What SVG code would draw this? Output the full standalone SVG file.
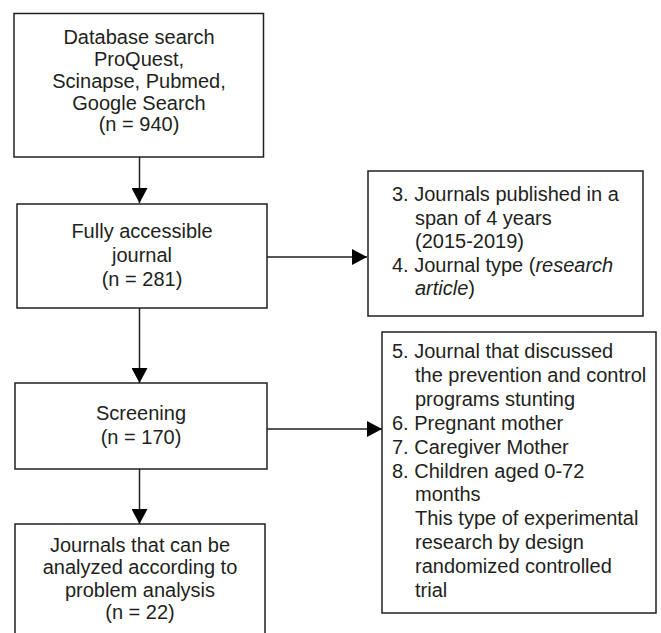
<svg xmlns="http://www.w3.org/2000/svg" width="661" height="633" viewBox="0 0 661 633">
<defs>
<style>
.box{fill:#fff;stroke:#231f20;stroke-width:1.5}
.t{font-family:"Liberation Sans",Arial,sans-serif;font-size:20px;fill:#231f20}
.c{text-anchor:middle}
.ln{stroke:#231f20;stroke-width:1.5;fill:none}
</style>
<marker id="ah" markerUnits="userSpaceOnUse" markerWidth="16" markerHeight="16" refX="15" refY="8" orient="auto">
<polygon points="0,0 15,8 0,16" fill="#000"/>
</marker>
</defs>
<rect width="661" height="633" fill="#fff"/>
<g id="connectors">
<line class="ln" x1="139.5" y1="157" x2="139.5" y2="203" marker-end="url(#ah)"/>
<line class="ln" x1="267" y1="257" x2="367" y2="257" marker-end="url(#ah)"/>
<line class="ln" x1="139.5" y1="308" x2="139.5" y2="383" marker-end="url(#ah)"/>
<line class="ln" x1="267" y1="429" x2="382" y2="429" marker-end="url(#ah)"/>
<line class="ln" x1="139.5" y1="469" x2="139.5" y2="524" marker-end="url(#ah)"/>
</g>
<g id="n1">
<rect class="box" x="14" y="13.5" width="249.5" height="143.5"/>
<text class="t c" x="139" y="44">Database search</text>
<text class="t c" x="139" y="66">ProQuest,</text>
<text class="t c" x="139" y="88">Scinapse, Pubmed,</text>
<text class="t c" x="139" y="109.5">Google Search</text>
<text class="t c" x="139" y="131">(n = 940)</text>
</g>
<g id="n2">
<rect class="box" x="17" y="204" width="250" height="104"/>
<text class="t c" x="142" y="238">Fully accessible</text>
<text class="t c" x="142" y="262">journal</text>
<text class="t c" x="142" y="286">(n = 281)</text>
</g>
<g id="n3">
<rect class="box" x="368" y="171" width="275" height="145"/>
<text class="t" x="392" y="201">3. Journals published in a</text>
<text class="t" x="415" y="224.5">span of 4 years</text>
<text class="t" x="415" y="248">(2015-2019)</text>
<text class="t" x="392" y="271.5">4. Journal type (<tspan font-style="italic">research</tspan></text>
<text class="t" x="415" y="295"><tspan font-style="italic">article</tspan>)</text>
</g>
<g id="n4">
<rect class="box" x="382" y="332" width="274" height="281"/>
<text class="t" x="392" y="358">5. Journal that discussed</text>
<text class="t" x="415" y="381.9">the prevention and control</text>
<text class="t" x="415" y="405.8">programs stunting</text>
<text class="t" x="392" y="429.7">6. Pregnant mother</text>
<text class="t" x="392" y="453.6">7. Caregiver Mother</text>
<text class="t" x="392" y="477.5">8. Children aged 0-72</text>
<text class="t" x="415" y="501.4">months</text>
<text class="t" x="415" y="525.3">This type of experimental</text>
<text class="t" x="415" y="549.2">research by design</text>
<text class="t" x="415" y="573.1">randomized controlled</text>
<text class="t" x="415" y="597">trial</text>
</g>
<g id="n5">
<rect class="box" x="15" y="383" width="252" height="86"/>
<text class="t c" x="141" y="420">Screening</text>
<text class="t c" x="141" y="444">(n = 170)</text>
</g>
<g id="n6">
<rect class="box" x="15" y="524" width="250" height="120"/>
<text class="t c" x="140" y="552">Journals that can be</text>
<text class="t c" x="140" y="574">analyzed according to</text>
<text class="t c" x="140" y="597">problem analysis</text>
<text class="t c" x="140" y="619">(n = 22)</text>
</g>
</svg>
